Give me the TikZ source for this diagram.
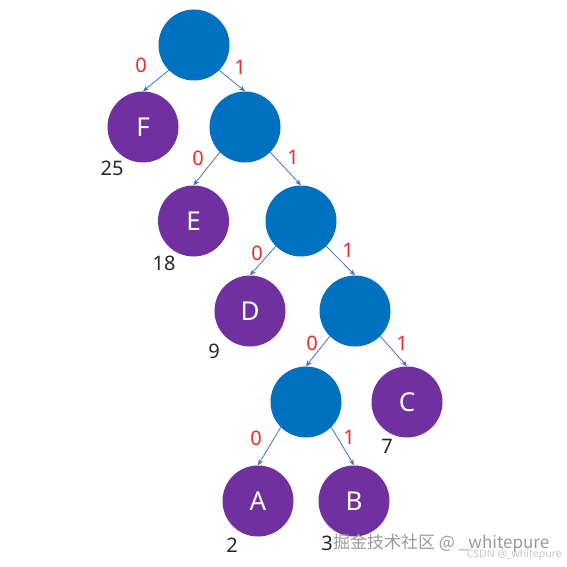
\documentclass[tikz,border=0pt]{standalone}
\usepackage{fontspec}
\setmainfont{Noto Sans}
\newfontfamily\cjkfont{Noto Sans CJK SC}
\usetikzlibrary{arrows.meta}
\definecolor{hblue}{RGB}{0,112,192}
\definecolor{hpurple}{RGB}{112,48,160}
\definecolor{hline}{RGB}{68,114,196}
\definecolor{hred}{RGB}{240,40,40}

\begin{document}
\begin{tikzpicture}[x=1pt,y=-1pt,
  inner/.style={circle,fill=hblue,minimum size=71pt,inner sep=0pt},
  leaf/.style={circle,fill=hpurple,minimum size=71pt,inner sep=0pt,text=white,font=\fontsize{26}{26}\selectfont},
  weight/.style={text=black!85,font=\fontsize{20}{20}\selectfont,inner sep=0pt},
  bit/.style={text=hred,font=\fontsize{20}{20}\selectfont,inner sep=0pt},
  edge/.style={draw=hline,line width=0.8pt,-{Stealth[length=6pt,width=5pt]}}]
\useasboundingbox (0,0) rectangle (566,567);

\draw node[inner] (root) at (194,45) {};
\draw node[leaf] (F) at (143,127) {F};
\draw node[inner] (n1) at (245,127) {};
\draw node[leaf] (E) at (193.5,221) {E};
\draw node[inner] (n2) at (301,221) {};
\draw node[leaf] (D) at (250,311) {D};
\draw node[inner] (n3) at (355,311) {};
\draw node[inner] (n4) at (306,402) {};
\draw node[leaf] (C) at (407,402) {C};
\draw node[leaf] (A) at (258,501) {A};
\draw node[leaf] (B) at (354,501) {B};

\draw node[weight] (wF) at (112,168) {25};
\draw node[weight] (wE) at (164,263) {18};
\draw node[weight] (wD) at (214,351) {9};
\draw node[weight] (wC) at (387,446) {7};
\draw node[weight] (wA) at (232,545) {2};
\draw node[weight] (wB) at (327,543) {3};

\draw node[bit] (b0root) at (141,65) {0};
\draw node[bit] (b1root) at (240,67) {1};
\draw node[bit] (b0n1) at (198,158) {0};
\draw node[bit] (b1n1) at (293,157) {1};
\draw node[bit] (b0n2) at (257,253) {0};
\draw node[bit] (b1n2) at (348,250) {1};
\draw node[bit] (b0n3) at (312,343) {0};
\draw node[bit] (b1n3) at (402,343) {1};
\draw node[bit] (b0n4) at (256,438) {0};
\draw node[bit] (b1n4) at (349,437) {1};

\foreach \from/\to in {root/F, n1/E, n2/D, n3/n4, n4/A}
	\draw[edge] (\from.south west) -- (\to.north);

\foreach \from/\to in {root/n1, n1/n2, n2/n3, n3/C, n4/B}
	\draw[edge] (\from.south east) -- (\to.north);

\draw node[text=gray!80,font=\cjkfont\fontsize{17}{17}\selectfont,inner sep=0pt,anchor=west] (mark) at (333,543) {掘金技术社区 @ \_whitepure};
\draw node[text=gray!45,font=\fontsize{10.5}{10.5}\selectfont,inner sep=0pt,anchor=east] (csdn) at (562,555) {CSDN @\_whitepure};

\end{tikzpicture}
\end{document}
